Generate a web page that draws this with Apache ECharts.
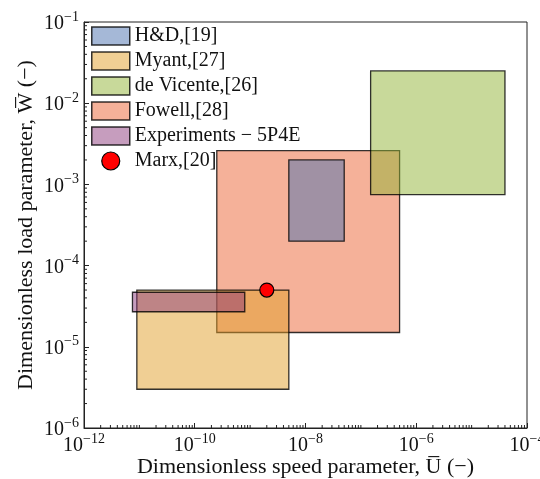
<!DOCTYPE html>
<html><head><meta charset="utf-8">
<script src="https://cdn.jsdelivr.net/npm/echarts@6/dist/echarts.min.js"></script>
<style>html,body{margin:0;padding:0;background:#fff}#c{width:540px;height:479px}</style>
</head><body><div id="c"></div>
<script>
// ---- data ----
const seriesNames = ['H&D,[19]', 'Myant,[27]', 'de Vicente,[26]', 'Fowell,[28]', 'Experiments \u2212 5P4E'];
const uMin = [5e-9, 9e-12, 1.5e-7, 2.5e-10, 7.5e-12];
const uMax = [5e-8, 5e-9, 4e-5, 5e-7, 8e-10];
const wMin = [2e-4, 3e-6, 7.5e-4, 1.5e-5, 2.7e-5];
const wMax = [2e-3, 5e-5, 2.5e-2, 2.6e-3, 4.7e-5];
const pointName = 'Marx,[20]';
const pointU = [2e-9];
const pointW = [5e-5];
const xRange = [1e-12, 1e-4];
const yRange = [1e-6, 1e-1];

// ---- styles ----
const fills = ['rgba(76,114,176,0.5)', 'rgba(225,159,41,0.5)', 'rgba(145,179,53,0.5)', 'rgba(235,99,51,0.5)', 'rgba(135,50,120,0.48)'];
const edge = 'rgba(0,0,0,0.8)';
const drawOrder = [3, 0, 1, 2, 4];
const FONT = 'Liberation Serif';

function supLabel(v) {
  const e = Math.round(Math.log10(v));
  return '{b|10}{s|' + (e < 0 ? '\u2212' + (-e) : e) + '}';
}
const richSup = {
  b: { fontFamily: FONT, fontSize: 20, color: '#111', verticalAlign: 'bottom', lineHeight: 24 },
  s: { fontFamily: FONT, fontSize: 14, color: '#111', verticalAlign: 'top', lineHeight: 14 }
};

// minor tick values (k * 10^n)
const xMinor = [], yMinor = [];
for (let n = -12; n < -4; n++) for (let k = 1; k <= 9; k++) {
  if (k === 1 && n % 2 === 0) continue;
  xMinor.push([k * Math.pow(10, n), yRange[0]]);
}
for (let n = -6; n < -1; n++) for (let k = 2; k <= 9; k++) yMinor.push([xRange[0], k * Math.pow(10, n)]);

const series = [];
drawOrder.forEach(i => {
  series.push({
    type: 'custom', name: seriesNames[i], z: 2 + series.length,
    itemStyle: { color: fills[i], borderColor: edge, borderWidth: 1.3 },
    encode: { x: [0, 1], y: [2, 3] },
    data: [[uMin[i], uMax[i], wMin[i], wMax[i]]],
    renderItem: (params, api) => {
      const p0 = api.coord([api.value(0), api.value(3)]);
      const p1 = api.coord([api.value(1), api.value(2)]);
      return { type: 'rect', shape: { x: p0[0], y: p0[1], width: p1[0] - p0[0], height: p1[1] - p0[1] },
        style: { fill: fills[i], stroke: edge, lineWidth: 1.3 } };
    }
  });
});
series.push({
  type: 'scatter', name: pointName, z: 10,
  symbolSize: 14,
  itemStyle: { color: '#ff0000', borderColor: '#000', borderWidth: 1.2, opacity: 1 },
  data: pointU.map((u, j) => [u, pointW[j]])
});
series.push({
  type: 'custom', silent: true, z: 20, clip: false, data: xMinor,
  renderItem: (params, api) => {
    const p = api.coord([api.value(0), api.value(1)]);
    return { type: 'line', shape: { x1: p[0], y1: p[1], x2: p[0], y2: p[1] - 3 }, style: { stroke: '#222', lineWidth: 1 } };
  }
});
series.push({
  type: 'custom', silent: true, z: 20, clip: false, data: yMinor,
  renderItem: (params, api) => {
    const p = api.coord([api.value(0), api.value(1)]);
    return { type: 'line', shape: { x1: p[0], y1: p[1], x2: p[0] + 3, y2: p[1] }, style: { stroke: '#222', lineWidth: 1 } };
  }
});

const legendData = seriesNames.map((n, i) => ({
  name: n, icon: 'rect', itemStyle: { color: fills[i], borderColor: 'rgba(0,0,0,0.8)', borderWidth: 1.5 }
}));
legendData.push({ name: pointName, icon: 'circle', itemStyle: { color: '#ff0000', borderColor: '#000', borderWidth: 1.2 } });

const option = {
  animation: false,
  backgroundColor: '#fff',
  grid: { left: 84, right: 13, top: 22, bottom: 51, containLabel: false, outerBoundsMode: 'none',
    show: true, borderColor: '#222', borderWidth: 1, backgroundColor: 'transparent' },
  legend: {
    orient: 'vertical', left: 91, top: 26, padding: 0, itemWidth: 38, itemHeight: 18, itemGap: 5,
    selectedMode: false, data: legendData,
    textStyle: { fontFamily: FONT, fontSize: 20, color: '#111', lineHeight: 18 }
  },
  xAxis: {
    type: 'log', logBase: 10, min: xRange[0], max: xRange[1], interval: 2,
    name: 'Dimensionless speed parameter, U\u0305 (\u2212)', nameLocation: 'middle', nameGap: 28, nameMoveOverlap: false,
    nameTextStyle: { fontFamily: FONT, fontSize: 22, color: '#111' },
    axisLine: { lineStyle: { color: '#222', width: 1 } },
    axisTick: { inside: true, length: 5, lineStyle: { color: '#222' } },
    minorTick: { show: false }, splitLine: { show: false },
    axisLabel: { formatter: supLabel, rich: richSup, margin: 4 }
  },
  yAxis: {
    type: 'log', logBase: 10, min: yRange[0], max: yRange[1], interval: 1,
    name: 'Dimensionless load parameter, W\u0305 (\u2212)', nameLocation: 'middle', nameGap: 47, nameMoveOverlap: false,
    nameTextStyle: { fontFamily: FONT, fontSize: 22, color: '#111' },
    axisLine: { lineStyle: { color: '#222', width: 1 } },
    axisTick: { inside: true, length: 5, lineStyle: { color: '#222' } },
    minorTick: { show: false }, splitLine: { show: false },
    axisLabel: { formatter: supLabel, rich: richSup, margin: 5 }
  },
  series: series
};
const chart = echarts.init(document.getElementById('c'));
chart.setOption(option);
</script></body></html>
